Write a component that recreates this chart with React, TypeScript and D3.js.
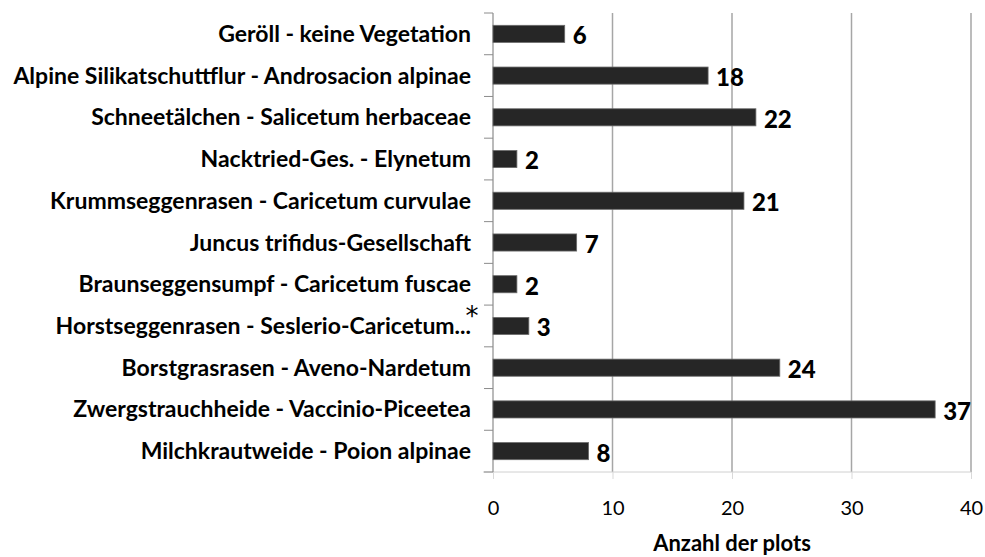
import React, { useEffect, useRef } from 'react';
import * as d3 from 'd3';

const categories = [
  'Geröll - keine Vegetation',
  'Alpine Silikatschuttflur - Androsacion alpinae',
  'Schneetälchen - Salicetum herbaceae',
  'Nacktried-Ges. - Elynetum',
  'Krummseggenrasen - Caricetum curvulae',
  'Juncus trifidus-Gesellschaft',
  'Braunseggensumpf - Caricetum fuscae',
  'Horstseggenrasen - Seslerio-Caricetum...',
  'Borstgrasrasen - Aveno-Nardetum',
  'Zwergstrauchheide - Vaccinio-Piceetea',
  'Milchkrautweide - Poion alpinae',
];
const plotCounts = [6, 18, 22, 2, 21, 7, 2, 3, 24, 37, 8];
const xTicks = [0, 10, 20, 30, 40];
const markedCategory = 'Horstseggenrasen - Seslerio-Caricetum...';
const xTitle = 'Anzahl der plots';

export default function App() {
  const ref = useRef<SVGSVGElement>(null);

  useEffect(() => {
    document.body.style.margin = '0';
    const width = 985;
    const height = 557;
    const left = 493;
    const right = 971;
    const top = 13;
    const bottom = 472;
    const font = 'Lato, "Open Sans", sans-serif';

    const svg = d3.select(ref.current);
    svg.selectAll('*').remove();
    svg.attr('width', width).attr('height', height);

    const x = d3.scaleLinear().domain([0, 40]).range([left, right]);
    const y = d3.scaleBand().domain(categories).range([top, bottom]).paddingInner(0.59).paddingOuter(0.295);
    const yBand = d3.scaleBand().domain(categories).range([top, bottom]);

    // vertical gridlines
    svg
      .append('g')
      .selectAll('line')
      .data(xTicks.slice(1))
      .join('line')
      .attr('x1', d => x(d))
      .attr('x2', d => x(d))
      .attr('y1', top)
      .attr('y2', bottom)
      .attr('stroke', '#a6a6a6')
      .attr('stroke-width', 1.5);

    // x axis
    const xAxis = svg.append('g').attr('transform', `translate(0, ${bottom})`);
    xAxis.call(
      d3.axisBottom(x).tickValues(xTicks).tickSize(7).tickSizeOuter(0).tickPadding(22)
    );
    xAxis.select('.domain').attr('stroke', '#d0d0d0').attr('d', `M${left - 10},0H${right}`);
    xAxis.selectAll('.tick line').attr('stroke', '#d9d9d9');
    xAxis
      .selectAll('.tick text')
      .attr('font-family', font)
      .attr('font-size', 20)
      .attr('fill', '#000');

    // y axis
    const yAxis = svg.append('g').attr('transform', `translate(${left}, 0)`);
    yAxis.append('line').attr('x1', 0).attr('x2', 0).attr('y1', top).attr('y2', bottom).attr('stroke', '#8c8c8c').attr('stroke-width', 1.2);
    yAxis
      .selectAll('line.tk')
      .data(categories.map(c => yBand(c) as number).concat([bottom]))
      .join('line')
      .attr('class', 'tk')
      .attr('x1', -9)
      .attr('x2', 0)
      .attr('y1', d => d)
      .attr('y2', d => d)
      .attr('stroke', '#8c8c8c');

    yAxis
      .selectAll('text')
      .data(categories)
      .join('text')
      .attr('x', -22)
      .attr('y', d => (yBand(d) as number) + yBand.bandwidth() / 2)
      .attr('dy', '0.35em')
      .attr('text-anchor', 'end')
      .attr('font-family', font)
      .attr('font-weight', 'bold')
      .attr('font-size', 23)
      .attr('fill', '#000')
      .text(d => d);

    // asterisk marking the truncated label
    svg
      .append('text')
      .attr('x', left - 21)
      .attr('y', (yBand(markedCategory) as number) + 20)
      .attr('text-anchor', 'middle')
      .attr('font-family', '"DejaVu Sans", sans-serif')
      .attr('font-size', 26)
      .text('*');

    // bars
    svg
      .append('g')
      .selectAll('rect')
      .data(categories)
      .join('rect')
      .attr('x', x(0))
      .attr('y', d => y(d) as number)
      .attr('width', (d, i) => x(plotCounts[i]) - x(0))
      .attr('height', y.bandwidth())
      .attr('fill', '#262626')
      .attr('stroke', '#6a6a6a')
      .attr('stroke-width', 0.8);

    // value labels
    svg
      .append('g')
      .selectAll('text')
      .data(categories)
      .join('text')
      .attr('x', (d, i) => x(plotCounts[i]) + 8)
      .attr('y', d => (yBand(d) as number) + yBand.bandwidth() / 2 + 2)
      .attr('dy', '0.35em')
      .attr('font-family', font)
      .attr('font-weight', 900)
      .attr('font-size', 24)
      .attr('fill', '#000')
      .text((d, i) => plotCounts[i]);

    svg
      .append('text')
      .attr('x', (left + right) / 2)
      .attr('y', 551)
      .attr('text-anchor', 'middle')
      .attr('font-family', font)
      .attr('font-weight', 'bold')
      .attr('font-size', 22)
      .attr('fill', '#000')
      .text(xTitle);
  }, []);

  return <svg ref={ref} style={{ display: 'block' }} />;
}
